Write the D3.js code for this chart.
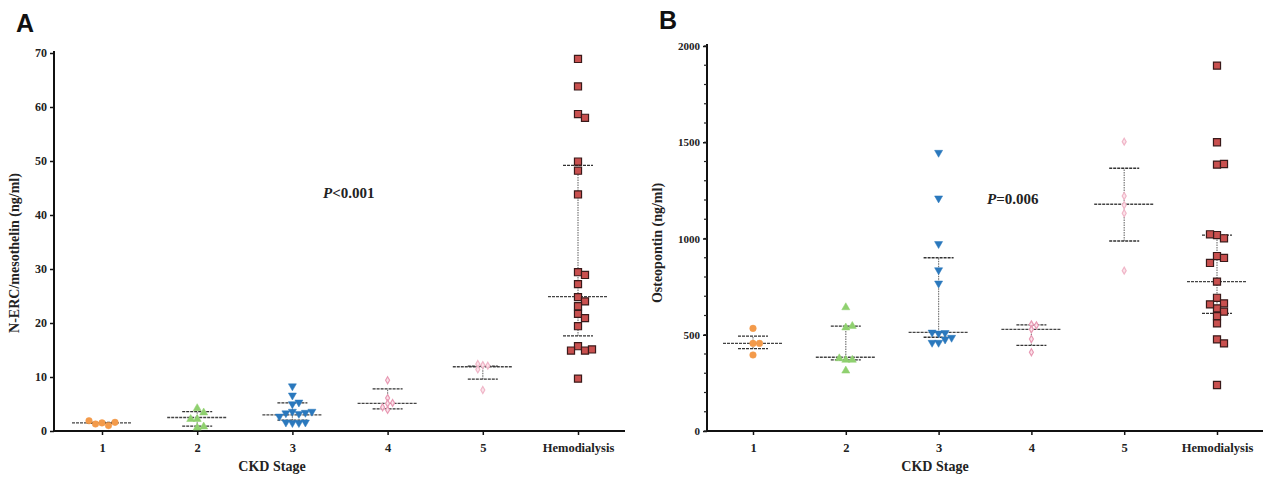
<!DOCTYPE html>
<html>
<head>
<meta charset="utf-8">
<script src="https://cdn.jsdelivr.net/npm/d3@7"></script>
<style>
  html, body { margin: 0; padding: 0; background: #fff; }
  svg { display: block; }
</style>
</head>
<body>
<svg id="chart" width="1269" height="478"></svg>
<script>
// ---------------- DATA ----------------
const categories = ["1", "2", "3", "4", "5", "Hemodialysis"];

// Panel A: N-ERC/mesothelin (ng/ml)
const ercStage1 = [1.5, 1.0, 1.3, 1.6, 1.9];
const ercStage2 = [4.2, 3.4, 2.2, 2.2, 0.6, 0.8];
const ercStage3 = [8.3, 6.6, 5.0, 5.3, 3.6, 3.2, 3.3, 3.4, 2.7, 3.6, 1.5, 1.5, 1.6, 1.6];
const ercStage4 = [9.4, 6.1, 5.2, 5.1, 4.4, 3.9];
const ercStage5 = [12.2, 12.1, 12.4, 11.4, 7.6];
const ercHemo = [68.9, 63.8, 58.7, 58.0, 49.9, 48.2, 43.8, 29.4, 28.9, 27.2, 24.8, 24.0, 23.1, 21.7, 20.9, 19.4, 15.7, 14.9, 14.9, 15.1, 9.7];
const ercMedian = [1.5, 2.5, 3.0, 5.1, 11.9, 24.9];
const ercQ1 = [1.4, 0.9, 2.0, 4.1, 9.6, 17.6];
const ercQ3 = [1.6, 3.6, 5.2, 7.8, 12.0, 49.2];
const ercTicks = [0, 10, 20, 30, 40, 50, 60, 70];

// Panel B: Osteopontin (ng/ml)
const opnStage1 = [533, 455, 455, 395];
const opnStage2 = [642, 537, 545, 369, 369, 377, 313];
const opnStage3 = [1446, 1209, 972, 836, 767, 507, 510, 512, 476, 485, 459, 459];
const opnStage4 = [554, 549, 528, 478, 409];
const opnStage5 = [1503, 1221, 1174, 1131, 833];
const opnHemo = [1898, 1500, 1384, 1387, 1018, 1001, 1022, 909, 899, 873, 776, 692, 663, 637, 658, 620, 597, 559, 476, 455, 239];
const opnMedian = [455, 383, 512, 528, 1178, 776];
const opnQ1 = [428, 369, 487, 445, 987, 611];
const opnQ3 = [493, 545, 900, 551, 1365, 1018];
const opnTicks = [0, 500, 1000, 1500, 2000];
const opnMinorTicks = d3.range(0, 2001, 100);

const groupColors = ["#f39a4a", "#8fd06f", "#2a78bd", "#e89ab4", "#f0b6c8", "#c9504f"];
const groupShapes = ["circle", "triangle", "triangleDown", "diamond", "diamond", "square"];

// ---------------- DRAW ----------------
const svg = d3.select("#chart");
const serif = "'Liberation Serif', 'DejaVu Serif', serif";

function symbolFor(shape) {
  return {circle: d3.symbolCircle, triangle: d3.symbolTriangle, triangleDown: d3.symbolTriangle,
          diamond: d3.symbolDiamond, square: d3.symbolSquare}[shape];
}

function swarm(values, y, step, minDist) {
  // simple beeswarm: place each point at the nearest free horizontal slot
  const placed = [];
  const out = new Array(values.length);
  values.forEach((v, i) => {
    const py = y(v);
    let dx = 0;
    const cands = [0];
    for (let j = 1; j < 8; j++) { cands.push(j * step, -j * step); }
    for (const c of cands) {
      if (placed.every(p => Math.hypot(p.x - c, p.y - py) >= minDist)) { dx = c; break; }
    }
    placed.push({x: dx, y: py});
    out[i] = {dx: dx, y: py};
  });
  return out;
}

function panel(opts) {
  const g = svg.append("g");
  const x = d3.scalePoint().domain(categories).range([opts.x0, opts.x1]);
  const y = d3.scaleLinear().domain(opts.domain).range([431, opts.yTop]);

  // y axis
  const yAxis = d3.axisLeft(y).tickValues(opts.ticks).tickSize(4).tickPadding(3).tickFormat(d3.format("d"));
  const ya = g.append("g").attr("transform", `translate(${opts.axisX},0)`).call(yAxis);
  if (opts.minor) {
    g.append("g").attr("transform", `translate(${opts.axisX},0)`)
      .selectAll("line").data(opts.minor).join("line")
      .attr("x1", -3).attr("x2", 0).attr("y1", d => y(d)).attr("y2", d => y(d))
      .attr("stroke", "#222").attr("stroke-width", 1.2);
  }
  ya.select(".domain").attr("stroke", "#111").attr("stroke-width", 2)
    .attr("d", `M0,${y(opts.domain[1]) - 2}V${431}`);
  ya.selectAll(".tick line").attr("stroke", "#111").attr("stroke-width", 1.5);
  ya.selectAll(".tick text").attr("font-family", serif).attr("font-weight", "bold")
    .attr("font-size", opts.yTickSize).attr("fill", "#222");

  // x axis
  const xAxis = d3.axisBottom(x).tickSize(4).tickPadding(8);
  const xa = g.append("g").attr("transform", `translate(0,431)`).call(xAxis);
  xa.select(".domain").attr("stroke", "#111").attr("stroke-width", 2)
    .attr("d", `M${opts.axisX},0H${opts.axisEnd}`);
  xa.selectAll(".tick line").attr("stroke", "#111").attr("stroke-width", 1.5);
  xa.selectAll(".tick text").attr("font-family", serif).attr("font-weight", "bold")
    .attr("font-size", 12.5).attr("fill", "#222");

  // axis titles
  g.append("text").attr("x", opts.xlabX).attr("y", 471)
    .attr("text-anchor", "middle").attr("font-family", serif).attr("font-weight", "bold")
    .attr("font-size", 14).attr("fill", "#222").text("CKD Stage");
  g.append("text").attr("transform", `translate(${opts.ylabX},${opts.ylabY}) rotate(-90)`)
    .attr("text-anchor", "middle").attr("font-family", serif).attr("font-weight", "bold")
    .attr("font-size", 14).attr("fill", "#222").text(opts.ylabel);

  // panel letter
  g.append("text").attr("x", opts.letterX).attr("y", opts.letterY)
    .attr("font-family", "'Liberation Sans', Arial, sans-serif").attr("font-weight", "bold")
    .attr("font-size", 25).attr("fill", "#111").text(opts.letter);

  // p value
  const pt = g.append("text").attr("x", opts.pX).attr("y", opts.pY)
    .attr("font-family", serif).attr("font-weight", "bold").attr("font-size", 15).attr("fill", "#222");
  pt.append("tspan").attr("font-style", "italic").text("P");
  pt.append("tspan").text(opts.pText);

  // groups
  opts.groups.forEach((vals, gi) => {
    const cx = x(categories[gi]);
    const med = opts.median[gi], q1 = opts.q1[gi], q3 = opts.q3[gi];
    const eg = g.append("g");
    eg.append("line").attr("x1", cx).attr("x2", cx).attr("y1", y(q1)).attr("y2", y(q3))
      .attr("stroke", "#777").attr("stroke-width", 1.2).attr("stroke-dasharray", "1.5,1");
    eg.append("line").attr("x1", cx - 30).attr("x2", cx + 30).attr("y1", y(med)).attr("y2", y(med))
      .attr("stroke", "#444").attr("stroke-width", 1.3).attr("stroke-dasharray", "3,1");
    [q1, q3].forEach(q => {
      eg.append("line").attr("x1", cx - 15).attr("x2", cx + 15).attr("y1", y(q)).attr("y2", y(q))
        .attr("stroke", "#333").attr("stroke-width", 1.3).attr("stroke-dasharray", "3,1");
    });

    const shape = groupShapes[gi];
    const step = gi === 5 ? 7 : (gi >= 3 ? 5 : 6.5);
    const pos = swarm(vals, y, step, step);
    const size = gi === 5 ? 50 : (gi >= 3 ? 14 : (gi === 0 ? 34 : 28));
    g.append("g").selectAll("path").data(vals).join("path")
      .attr("d", d3.symbol().type(symbolFor(shape)).size(size))
      .attr("transform", (d, i) => `translate(${cx + pos[i].dx},${pos[i].y})` + (shape === "triangleDown" ? " rotate(180)" : ""))
      .attr("fill", gi >= 3 && gi < 5 ? "#fbe3ea" : groupColors[gi])
      .attr("stroke", gi === 5 ? "#3a1a1a" : groupColors[gi])
      .attr("stroke-width", gi === 5 ? 1.2 : (gi >= 3 ? 1.2 : 0.5));
  });
}

panel({
  letter: "A", letterX: 16, letterY: 32,
  x0: 102, x1: 578, axisX: 54, axisEnd: 625, yTop: 53,
  domain: [0, 70], ticks: ercTicks, minor: null, yTickSize: 12,
  ylabel: "N-ERC/mesothelin (ng/ml)", ylabX: 19, ylabY: 253, xlabX: 272,
  pX: 323, pY: 198, pText: "<0.001",
  groups: [ercStage1, ercStage2, ercStage3, ercStage4, ercStage5, ercHemo],
  median: ercMedian, q1: ercQ1, q3: ercQ3
});

panel({
  letter: "B", letterX: 659, letterY: 29,
  x0: 753, x1: 1217, axisX: 707, axisEnd: 1263, yTop: 46,
  domain: [0, 2000], ticks: opnTicks, minor: opnMinorTicks, yTickSize: 11,
  ylabel: "Osteopontin (ng/ml)", ylabX: 662, ylabY: 243, xlabX: 935,
  pX: 987, pY: 204, pText: "=0.006",
  groups: [opnStage1, opnStage2, opnStage3, opnStage4, opnStage5, opnHemo],
  median: opnMedian, q1: opnQ1, q3: opnQ3
});
</script>
</body>
</html>
